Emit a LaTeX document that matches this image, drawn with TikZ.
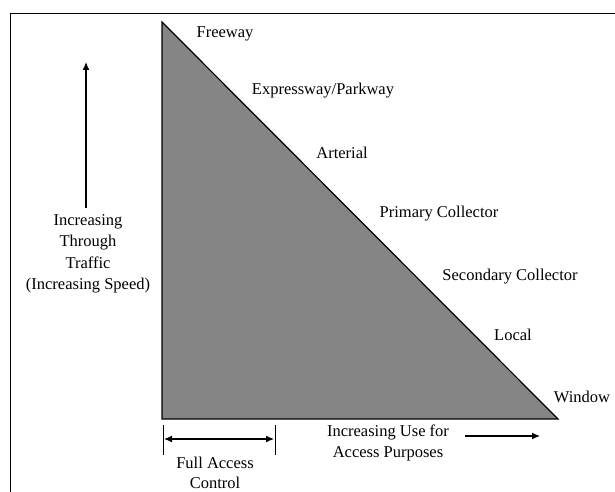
\documentclass[tikz,border=0pt]{standalone}
\usepackage{fontspec}
\setmainfont{Liberation Serif}
\usetikzlibrary{arrows.meta}

\begin{document}
\begin{tikzpicture}[>=latex,x=1pt,y=-1pt,
	lbl/.style={font=\fontsize{16.5}{21.5}\selectfont,inner sep=0pt,align=center},
	tip/.style={line width=1.2pt,-{Latex[length=8pt,width=7pt]}}]
	\useasboundingbox (0,0) rectangle (615,492);

	% frame
	\coordinate (FR) at (615,13);
	\coordinate (FC) at (10,13);
	\coordinate (FB) at (10,492);
	\draw[line width=0.7pt] (FR)--(FC)--(FB);

	% triangle
	\coordinate (A) at (162,22);
	\coordinate (B) at (162,419);
	\coordinate (C) at (558,419);
	\fill[black!48] (A)--(B)--(C)--cycle;
	\draw[line width=1.2pt] (A)--(B)--(C)--cycle;

	\node[lbl] (fwy) at (225,34) {Freeway};
	\node[lbl] (exp) at (323,91) {Expressway/Parkway};
	\node[lbl] (art) at (342,153) {Arterial};
	\node[lbl] (pri) at (439,214) {Primary Collector};
	\node[lbl] (sec) at (510,277) {Secondary Collector};
	\node[lbl] (loc) at (513,335) {Local};
	\node[lbl] (win) at (582,397) {Window};

	% through traffic
	\coordinate (U1) at (86,208);
	\coordinate (U2) at (86,62);
	\draw[tip] (U1)--(U2);
	\node[lbl] (thru) at (88,254) {Increasing\\Through\\Traffic\\(Increasing Speed)};

	% full access control
	\coordinate (T1) at (163,425);
	\coordinate (T2) at (163,455);
	\coordinate (T3) at (275,425);
	\coordinate (T4) at (275,455);
	\draw[line width=0.7pt] (T1)--(T2) (T3)--(T4);
	\coordinate (L1) at (164,439);
	\coordinate (L2) at (274,439);
	\draw[tip,{Latex[length=8pt,width=7pt]}-{Latex[length=8pt,width=7pt]}] (L1)--(L2);
	\node[lbl,font=\fontsize{16.5}{19.5}\selectfont] (fac) at (215,473) {Full Access\\Control};

	% access purposes
	\node[lbl] (use) at (388,443) {Increasing Use for\\Access Purposes};
	\coordinate (R1) at (465,436);
	\coordinate (R2) at (540,436);
	\draw[tip] (R1)--(R2);
\end{tikzpicture}
\end{document}
